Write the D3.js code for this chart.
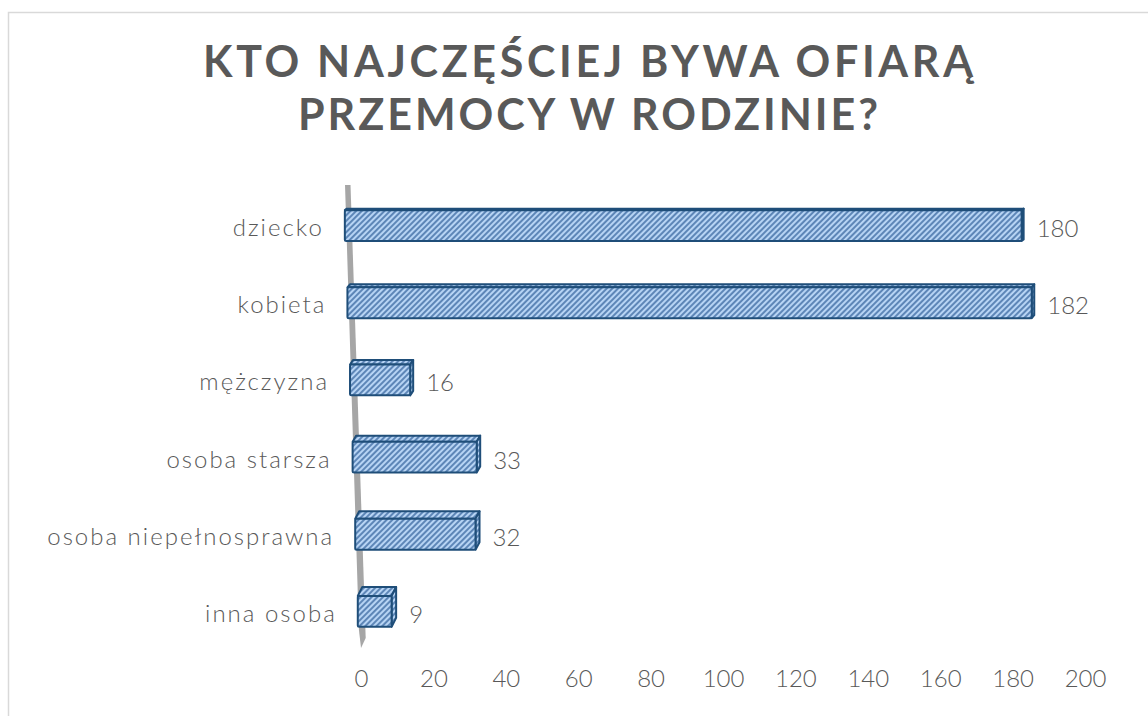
<!DOCTYPE html>
<html>
<head>
<meta charset="utf-8">
<script src="https://cdn.jsdelivr.net/npm/d3@7"></script>
<style>
  body { margin: 0; background: #fff; }
  text { font-family: Lato, "Noto Sans", sans-serif; fill: #595959; }
</style>
</head>
<body>
<div id="chart"></div>
<script>
const titleLines = ["KTO NAJCZĘŚCIEJ BYWA OFIARĄ", "PRZEMOCY W RODZINIE?"];
const categories = ["dziecko", "kobieta", "mężczyzna", "osoba starsza", "osoba niepełnosprawna", "inna osoba"];
const values = [180, 182, 16, 33, 32, 9];
const axisTicks = [0, 20, 40, 60, 80, 100, 120, 140, 160, 180, 200];

const width = 1148, height = 716;

const svg = d3.select("#chart")
  .append("svg")
  .attr("width", width)
  .attr("height", height);

// hatch fill of the bars
const defs = svg.append("defs");
const hatch = defs.append("pattern")
  .attr("id", "hatch")
  .attr("patternUnits", "userSpaceOnUse")
  .attr("width", 4)
  .attr("height", 6)
  .attr("patternTransform", "rotate(45)");
hatch.append("rect")
  .attr("width", 4).attr("height", 6)
  .attr("fill", "#b7d4f4");
hatch.append("line")
  .attr("x1", 1).attr("y1", 0).attr("x2", 1).attr("y2", 6)
  .attr("stroke", "#2c5c96")
  .attr("stroke-width", 1.3);

// chart border
svg.append("rect")
  .attr("x", 8.5).attr("y", 12.5)
  .attr("width", 1160).attr("height", 720)
  .attr("fill", "#fff")
  .attr("stroke", "#d9d9d9")
  .attr("stroke-width", 1.5);

// title
svg.selectAll(".title")
  .data(titleLines)
  .enter()
  .append("text")
  .attr("class", "title")
  .attr("x", 588)
  .attr("y", (d, i) => 77 + i * 53)
  .attr("text-anchor", "middle")
  .attr("textLength", (d, i) => i === 0 ? 770 : 580)
  .attr("lengthAdjust", "spacing")
  .style("font-size", "43px")
  .style("font-weight", "bold")
  .text(d => d);

// rows
const y = d3.scaleBand()
  .domain(categories)
  .range([187, 650])
  .paddingInner(0.6)
  .paddingOuter(0.3);

// slanted back wall: left edge of the bars moves right going down
const wallX = d3.scaleLinear().domain([185, 647]).range([344, 359.5]);
const barX = d3.scaleLinear().domain([0, 200]).range([0, 752]);
// 3D depth of the bars grows towards the bottom
const depthY = d3.scaleLinear().domain([226, 611]).range([1.5, 9]);
const depthX = d3.scaleLinear().domain([226, 611]).range([2, 4.5]);

svg.append("polygon")
  .attr("points", [
    [wallX(185) + 1, 185],
    [wallX(185) + 6.5, 185],
    [wallX(638) + 6.5, 638],
    [wallX(648) + 1.5, 648],
    [wallX(630), 630]
  ].map(p => p.join(",")).join(" "))
  .attr("fill", "#a6a6a6");

const rows = svg.selectAll(".row")
  .data(categories.map((c, i) => ({ cat: c, value: values[i] })))
  .enter()
  .append("g")
  .attr("class", "row");

const geom = d => {
  const yT = y(d.cat), yB = yT + y.bandwidth();
  const x0 = wallX(yT), x1 = x0 + barX(d.value);
  const mid = (yT + yB) / 2;
  return { yT, yB, x0, x1, dx: depthX(mid), dy: depthY(mid), mid };
};

const faceStyle = sel => sel
  .attr("fill", "url(#hatch)")
  .attr("stroke", "#1f4e79")
  .attr("stroke-width", 2)
  .attr("stroke-linejoin", "round");

// top face
rows.append("polygon")
  .attr("points", d => {
    const g = geom(d);
    return [[g.x0, g.yT], [g.x0 + g.dx, g.yT - g.dy], [g.x1 + g.dx, g.yT - g.dy], [g.x1, g.yT]]
      .map(p => p.join(",")).join(" ");
  })
  .call(faceStyle);

// side face
rows.append("polygon")
  .attr("points", d => {
    const g = geom(d);
    return [[g.x1, g.yT], [g.x1 + g.dx, g.yT - g.dy], [g.x1 + g.dx, g.yB - g.dy], [g.x1, g.yB]]
      .map(p => p.join(",")).join(" ");
  })
  .call(faceStyle);

// front face
rows.append("rect")
  .attr("x", d => geom(d).x0)
  .attr("y", d => geom(d).yT)
  .attr("width", d => barX(d.value))
  .attr("height", y.bandwidth())
  .attr("rx", 1.5)
  .call(faceStyle);

// value labels
rows.append("text")
  .attr("x", d => { const g = geom(d); return g.x1 + g.dx + 13; })
  .attr("y", d => geom(d).mid + 2)
  .attr("dominant-baseline", "central")
  .style("font-size", "24px")
  .style("font-weight", 300)
  .text(d => d.value);

// category labels
rows.append("text")
  .attr("x", d => geom(d).x0 - 21)
  .attr("y", d => geom(d).mid + 1)
  .attr("text-anchor", "end")
  .attr("dominant-baseline", "central")
  .style("font-size", "24px")
  .style("font-weight", 300)
  .style("letter-spacing", "2px")
  .text(d => d.cat);

// value axis (tick labels only)
const x = d3.scaleLinear().domain([0, 200]).range([361, 1085]);
const axis = svg.append("g")
  .attr("transform", "translate(0,679)")
  .call(d3.axisBottom(x).tickValues(axisTicks).tickSize(0).tickPadding(0));
axis.select(".domain").remove();
axis.selectAll("text")
  .attr("y", 0)
  .attr("dy", "0.35em")
  .attr("fill", "#595959")
  .style("font-family", "Lato, 'Noto Sans', sans-serif")
  .style("font-size", "24px")
  .style("font-weight", 300);
</script>
</body>
</html>
